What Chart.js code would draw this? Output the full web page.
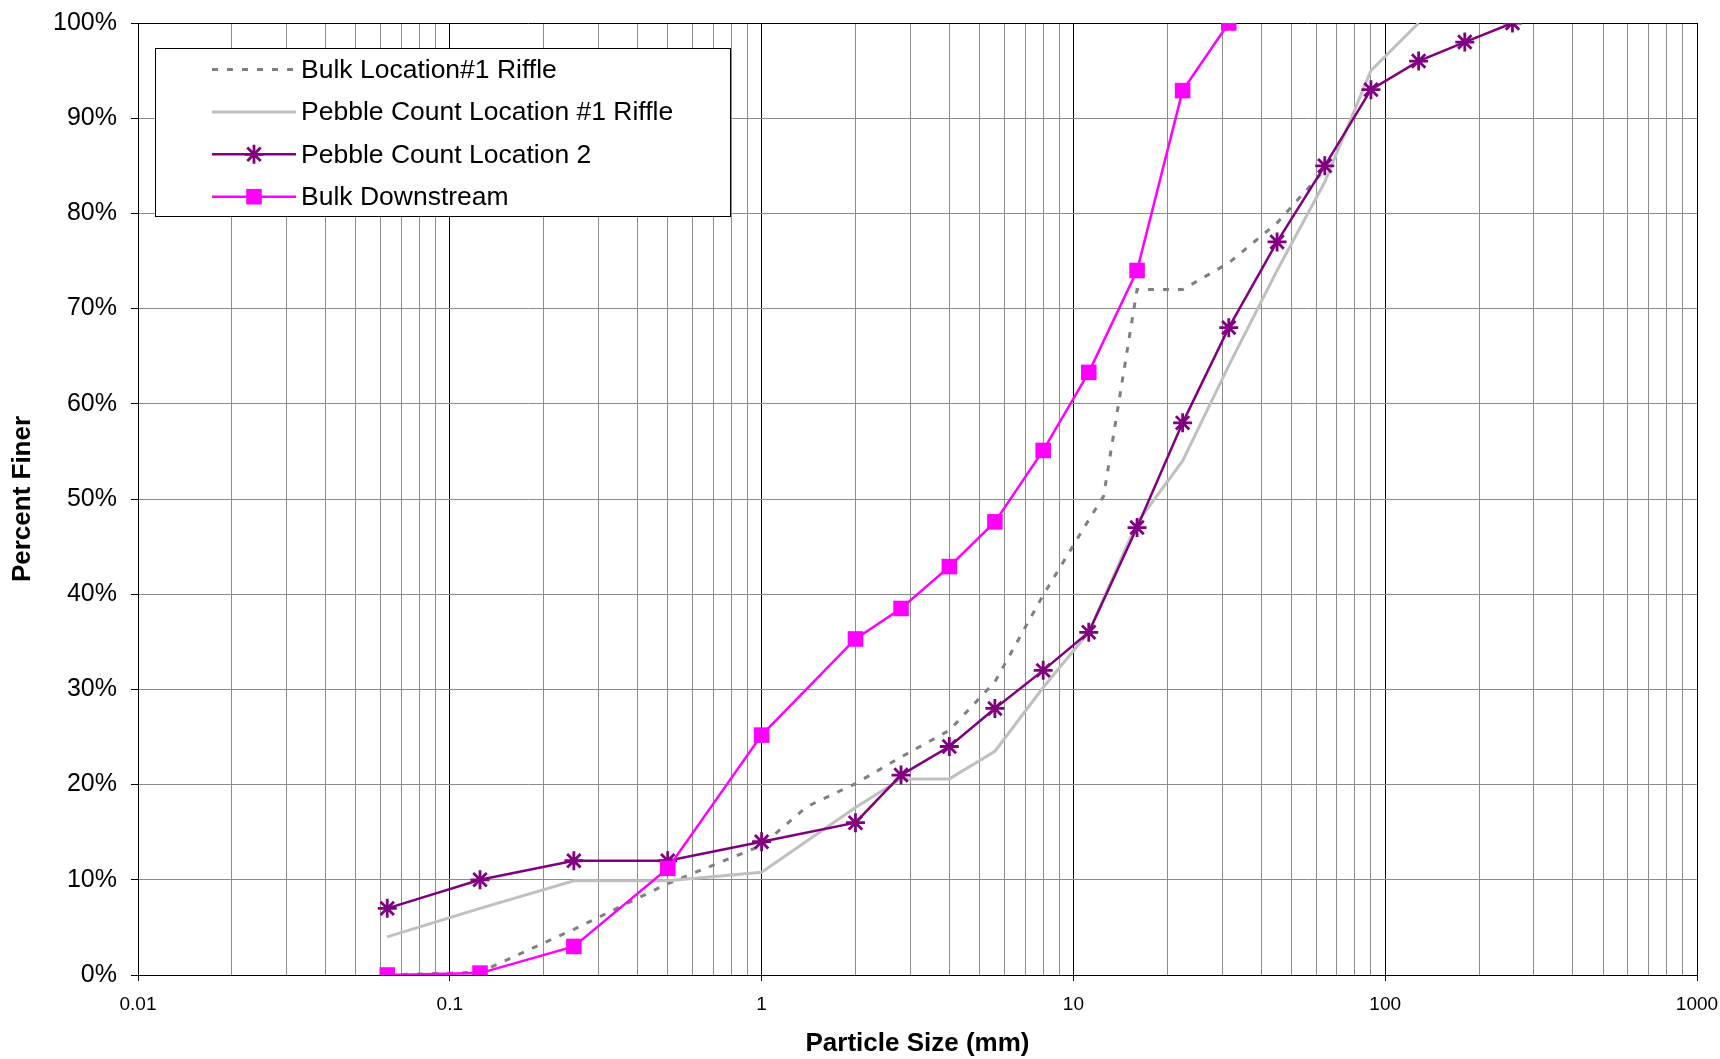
<!DOCTYPE html>
<html>
<head>
<meta charset="utf-8">
<script src="https://cdn.jsdelivr.net/npm/chart.js@4.4.1/dist/chart.umd.min.js"></script>
<style>
  html, body { margin: 0; padding: 0; background: #fff; }
  #wrap { width: 1720px; height: 1059px; }
</style>
</head>
<body>
<div id="wrap"><canvas id="gradChart" width="1720" height="1059"></canvas></div>
<script>
/* grain size distribution - percent finer vs particle size (mm) */
const bulkRiffleSizes = [0.063, 0.125, 0.25, 0.5, 1, 1.4, 2, 2.8, 4, 5.6, 8, 11.2, 12.5, 16, 22.4, 31.5, 45, 64];
const bulkRiffleFiner = [0, 0.3, 4.8, 9.6, 13.6, 17.7, 20.1, 22.9, 25.7, 30.8, 39.9, 47.8, 50.3, 72, 72, 74.8, 79, 84.6];

const pebbleRiffleSizes = [0.063, 0.125, 0.25, 0.5, 1, 2, 2.8, 4, 5.6, 8, 11.2, 16, 22.4, 31.5, 45, 64, 90, 128];
const pebbleRiffleFiner = [4, 7, 9.9, 9.9, 10.8, 17.6, 20.6, 20.6, 23.5, 30.2, 36, 47.5, 54, 64, 74, 83.3, 95, 100];

const pebbleLoc2Sizes = [0.063, 0.125, 0.25, 0.5, 1, 2, 2.8, 4, 5.6, 8, 11.2, 16, 22.4, 31.5, 45, 64, 90, 128, 180, 256];
const pebbleLoc2Finer = [7, 10, 12, 12, 14, 16, 21, 24, 28, 32, 36, 47, 58, 68, 77, 85, 93, 96, 98, 100];

const bulkDownSizes = [0.063, 0.125, 0.25, 0.5, 1, 2, 2.8, 4, 5.6, 8, 11.2, 16, 22.4, 31.5];
const bulkDownFiner = [0, 0.2, 3.0, 11.2, 25.2, 35.3, 38.5, 42.9, 47.6, 55.1, 63.3, 74.0, 92.9, 100];

const seriesNames = ["Bulk Location#1 Riffle", "Pebble Count Location #1 Riffle", "Pebble Count Location 2", "Bulk Downstream"];

const xDecades = [0.01, 0.1, 1, 10, 100, 1000];
const xDecadeLabels = ["0.01", "0.1", "1", "10", "100", "1000"];
const xMinorSteps = [1, 2, 3, 4, 5, 6, 7, 8, 9];
const yMin = 0, yMax = 100, yStep = 10;

const FONT = "'Liberation Sans', Arial, Helvetica, sans-serif";
Chart.defaults.font.family = FONT;
Chart.defaults.color = "#000";

function pts(xs, ys) {
  return xs.map((x, i) => ({ x: x, y: ys[i] }));
}

// log grid: every 1..9 step in each decade, plus the last decade
const xGridValues = [];
xDecades.slice(0, -1).forEach(d => xMinorSteps.forEach(k => xGridValues.push(+(d * k).toPrecision(6))));
xGridValues.push(xDecades[xDecades.length - 1]);

function isDecade(v) {
  const l = Math.log10(v);
  return Math.abs(l - Math.round(l)) < 1e-6;
}

/* boxed legend inside the plot, upper left */
const boxLegend = {
  id: "boxLegend",
  afterDraw(chart) {
    const ctx = chart.ctx;
    const left = 155, top = 48, w = 575, h = 168;
    const order = [0, 1, 2, 3];
    ctx.save();
    ctx.fillStyle = "#fff";
    ctx.fillRect(left, top, w, h);
    ctx.strokeStyle = "#000";
    ctx.lineWidth = 1;
    ctx.strokeRect(left + 0.5, top + 0.5, w, h);
    order.forEach((di, i) => {
      const ds = chart.data.datasets[di];
      const y = top + 21.5 + i * 42.4;
      ctx.strokeStyle = ds.borderColor;
      ctx.lineWidth = ds.borderWidth;
      ctx.setLineDash(ds.borderDash || []);
      ctx.beginPath();
      ctx.moveTo(left + 57, y);
      ctx.lineTo(left + 141, y);
      ctx.stroke();
      ctx.setLineDash([]);
      const cx = left + 99;
      if (ds.pointRadius > 0 && ds.pointStyle === "rect") {
        const s = ds.pointRadius * Math.SQRT1_2;
        ctx.fillStyle = ds.pointBackgroundColor;
        ctx.fillRect(cx - s, y - s, 2 * s, 2 * s);
      } else if (ds.pointRadius > 0 && ds.pointStyle === "star") {
        const r = ds.pointRadius, d = r * Math.SQRT1_2;
        ctx.strokeStyle = ds.pointBorderColor;
        ctx.lineWidth = ds.pointBorderWidth;
        ctx.beginPath();
        ctx.moveTo(cx, y - r); ctx.lineTo(cx, y + r);
        ctx.moveTo(cx - r, y); ctx.lineTo(cx + r, y);
        ctx.moveTo(cx - d, y - d); ctx.lineTo(cx + d, y + d);
        ctx.moveTo(cx - d, y + d); ctx.lineTo(cx + d, y - d);
        ctx.stroke();
      }
      ctx.fillStyle = "#000";
      ctx.font = "26.5px " + FONT;
      ctx.textBaseline = "middle";
      ctx.textAlign = "left";
      ctx.fillText(ds.label, left + 146, y + 1);
    });
    ctx.restore();
  }
};

new Chart(document.getElementById("gradChart"), {
  type: "line",
  data: {
    datasets: [{
      label: seriesNames[0],
      data: pts(bulkRiffleSizes, bulkRiffleFiner),
      borderColor: "#808080",
      borderWidth: 3,
      borderDash: [6, 9],
      pointRadius: 0,
      order: 4
    }, {
      label: seriesNames[1],
      data: pts(pebbleRiffleSizes, pebbleRiffleFiner),
      borderColor: "#c0c0c0",
      borderWidth: 3,
      pointRadius: 0,
      order: 3
    }, {
      label: seriesNames[2],
      data: pts(pebbleLoc2Sizes, pebbleLoc2Finer),
      borderColor: "#800080",
      borderWidth: 2.5,
      pointStyle: "star",
      pointRadius: 9.5,
      pointBorderColor: "#800080",
      pointBorderWidth: 2.8,
      pointBackgroundColor: "#800080",
      order: 2
    }, {
      label: seriesNames[3],
      data: pts(bulkDownSizes, bulkDownFiner),
      borderColor: "#ff00ff",
      borderWidth: 2.5,
      pointStyle: "rect",
      pointRadius: 11,
      pointBorderWidth: 0,
      pointBackgroundColor: "#ff00ff",
      pointBorderColor: "#ff00ff",
      order: 1
    }]
  },
  options: {
    responsive: false,
    devicePixelRatio: 1,
    animation: false,
    layout: { padding: { top: 23, right: 23, left: 0, bottom: 0 } },
    plugins: {
      legend: { display: false },
      tooltip: { enabled: false }
    },
    elements: { line: { tension: 0 } },
    scales: {
      x: {
        type: "logarithmic",
        min: xDecades[0],
        max: xDecades[xDecades.length - 1],
        afterBuildTicks(scale) {
          scale.ticks = xGridValues.map(v => ({ value: v }));
        },
        afterFit(scale) {
          scale.height = 84;
          scale.paddingLeft = 0;
          scale.paddingRight = 0;
        },
        border: { color: "#000", width: 1 },
        grid: {
          color: c => (c.tick && isDecade(c.tick.value)) ? "#000" : "#8c8c8c",
          tickColor: c => (c.tick && isDecade(c.tick.value)) ? "#000" : "rgba(0,0,0,0)",
          lineWidth: 1,
          tickLength: 6
        },
        ticks: {
          autoSkip: false,
          maxRotation: 0,
          padding: 12,
          font: { size: 19 },
          callback: v => {
            const i = xDecades.findIndex(d => Math.abs(d - v) / d < 1e-6);
            return i >= 0 ? xDecadeLabels[i] : "";
          }
        },
        title: {
          display: true,
          text: "Particle Size (mm)",
          font: { size: 26, weight: "bold" },
          padding: { top: 0, bottom: 0 }
        }
      },
      y: {
        min: yMin,
        max: yMax,
        afterFit(scale) {
          scale.width = 138;
          scale.paddingTop = 0;
          scale.paddingBottom = 0;
        },
        border: { color: "#000", width: 1 },
        grid: {
          color: c => (c.tick && c.tick.value === yMax) ? "#000" : "#8c8c8c",
          tickColor: "#000",
          lineWidth: 1,
          tickLength: 7
        },
        ticks: {
          stepSize: yStep,
          padding: 14,
          font: { size: 25 },
          callback: v => v + "%"
        },
        title: {
          display: true,
          text: "Percent Finer",
          font: { size: 26, weight: "bold" },
          padding: { top: 7, bottom: 0 }
        }
      }
    }
  },
  plugins: [boxLegend]
});
</script>
</body>
</html>
